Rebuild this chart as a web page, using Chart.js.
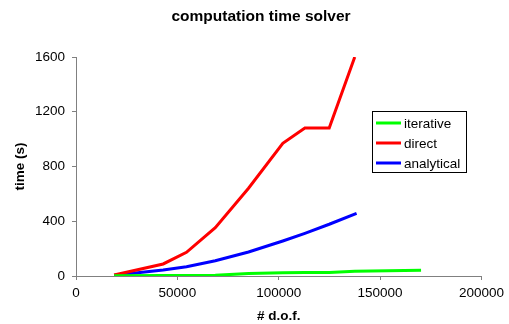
<!DOCTYPE html>
<html>
<head>
<meta charset="utf-8">
<script src="https://cdn.jsdelivr.net/npm/chart.js@4/dist/chart.umd.min.js"></script>
<style>
  html, body { margin: 0; padding: 0; background: #fff; }
  #wrap { width: 509px; height: 324px; }
</style>
</head>
<body>
<div id="wrap"><canvas id="c" width="509" height="324"></canvas></div>
<script>
// degrees of freedom and solver times (seconds)
const dofDirect = [18800, 43000, 54500, 68700, 85100, 102000, 112900, 124900, 137500];
const timeDirect = [7, 88, 173, 353, 641, 970, 1082, 1082, 1600];

const dofAnalytical = [18800, 43000, 54500, 68700, 85100, 102000, 112900, 124900, 138400];
const timeAnalytical = [5, 44, 68, 112, 175, 256, 312, 378, 458];

const dofIterative = [18800, 43000, 54500, 68700, 85100, 102000, 112900, 124900, 137500, 170200];
const timeIterative = [2, 3, 4, 5, 18, 24, 25, 26, 34, 42];

const seriesNames = ['iterative', 'direct', 'analytical'];
const seriesColors = ['#00ff00', '#ff0000', '#0000ff'];

const xTicks = [0, 50000, 100000, 150000, 200000];
const yTicks = [0, 400, 800, 1200, 1600];

const chartTitle = 'computation time solver';
const FONT = '"Liberation Sans", Arial, sans-serif';

function pts(xs, ys) { return xs.map((x, i) => ({ x: x, y: ys[i] })); }

// heading above the plot
const heading = {
  id: 'heading',
  afterDraw(chart) {
    const ctx = chart.ctx;
    ctx.save();
    ctx.font = 'bold 15.5px ' + FONT;
    ctx.fillStyle = '#000';
    ctx.textAlign = 'center';
    ctx.textBaseline = 'alphabetic';
    ctx.fillText(chartTitle, 261, 21);
    ctx.restore();
  }
};

// boxed legend drawn inside the plot area, right side
const boxLegend = {
  id: 'boxLegend',
  afterDraw(chart) {
    const ctx = chart.ctx;
    const x0 = 372, y0 = 111, w = 94, h = 61;
    ctx.save();
    ctx.fillStyle = '#ffffff';
    ctx.fillRect(x0, y0, w, h);
    ctx.strokeStyle = '#000000';
    ctx.lineWidth = 1;
    ctx.strokeRect(x0 + 0.5, y0 + 0.5, w, h);
    ctx.font = '13.5px ' + FONT;
    ctx.textBaseline = 'middle';
    chart.data.datasets.forEach((ds, i) => {
      const yy = y0 + 12 + i * 20;
      ctx.strokeStyle = ds.borderColor;
      ctx.lineWidth = 3;
      ctx.beginPath();
      ctx.moveTo(x0 + 4, yy);
      ctx.lineTo(x0 + 29, yy);
      ctx.stroke();
      ctx.fillStyle = '#000000';
      ctx.fillText(ds.label, x0 + 32, yy + 1);
    });
    ctx.restore();
  }
};

new Chart(document.getElementById('c'), {
  type: 'line',
  data: {
    datasets: [
      { label: seriesNames[0], data: pts(dofIterative, timeIterative), borderColor: seriesColors[0] },
      { label: seriesNames[1], data: pts(dofDirect, timeDirect), borderColor: seriesColors[1] },
      { label: seriesNames[2], data: pts(dofAnalytical, timeAnalytical), borderColor: seriesColors[2] }
    ]
  },
  options: {
    responsive: false,
    animation: false,
    devicePixelRatio: 1,
    elements: {
      line: { borderWidth: 3, tension: 0, fill: false },
      point: { radius: 0, hoverRadius: 0 }
    },
    layout: { padding: { left: 0, right: 24, top: 57, bottom: 0 } },
    plugins: {
      legend: { display: false },
      tooltip: { enabled: false },
      title: { display: false }
    },
    scales: {
      x: {
        type: 'linear',
        min: 0, max: 200000,
        afterBuildTicks(scale) { scale.ticks = xTicks.map(v => ({ value: v })); },
        afterFit(scale) { scale.height = 48; },
        ticks: {
          color: '#000',
          font: { family: FONT, size: 13.5 },
          padding: 5,
          maxRotation: 0,
          callback: v => String(v)
        },
        grid: { display: true, drawOnChartArea: false, drawTicks: true, tickLength: 4, tickColor: '#808080' },
        border: { display: true, color: '#808080', width: 1 },
        title: {
          display: true, text: '# d.o.f.', color: '#000',
          font: { family: FONT, size: 13.5, weight: 'bold' },
          padding: { top: 4, bottom: 0 }
        }
      },
      y: {
        type: 'linear',
        min: 0, max: 1600,
        afterBuildTicks(scale) { scale.ticks = yTicks.map(v => ({ value: v })); },
        afterFit(scale) { scale.width = 76; },
        ticks: {
          color: '#000',
          font: { family: FONT, size: 13.5 },
          padding: 7,
          callback: v => String(v)
        },
        grid: { display: true, drawOnChartArea: false, drawTicks: true, tickLength: 4, tickColor: '#808080' },
        border: { display: true, color: '#808080', width: 1 },
        title: {
          display: true, text: 'time (s)', color: '#000',
          font: { family: FONT, size: 13.5, weight: 'bold' },
          padding: { top: 12, bottom: 0 }
        }
      }
    }
  },
  plugins: [heading, boxLegend]
});
</script>
</body>
</html>
